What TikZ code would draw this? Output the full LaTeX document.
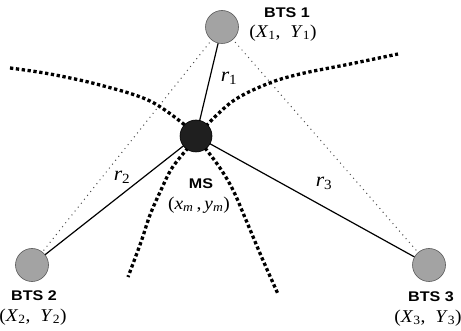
\documentclass[tikz,border=0pt]{standalone}
\usepackage{fontspec}
\setmainfont{Liberation Serif}
\setsansfont{Liberation Sans}
\newfontfamily\btsfont{Liberation Sans}[FakeStretch=1.15]
\newfontfamily\crdfont{Liberation Serif}[FakeStretch=1.08]
\tikzset{
  bts/.style={circle,draw=gray!70!black,line width=0.6pt,fill=black!36,minimum size=33pt,inner sep=0pt},
  msnode/.style={circle,draw=black,line width=0.6pt,fill=black!88,minimum size=32pt,inner sep=0pt},
  rangeline/.style={draw=black,line width=1.2pt},
  guideline/.style={draw=black!70,line width=1pt,dash pattern=on 1pt off 4pt},
  hyper/.style={draw=black,line width=3.3pt,dash pattern=on 3.3pt off 2.6pt},
  btslab/.style={font=\btsfont\bfseries\fontsize{14}{14}\selectfont,inner sep=0pt},
  crdlab/.style={font=\crdfont\fontsize{18}{18}\selectfont,inner sep=0pt},
  rlab/.style={font=\crdfont\fontsize{20}{20}\selectfont\itshape,inner sep=0pt}
}
\begin{document}
\begin{tikzpicture}[x=1pt,y=-1pt]
\useasboundingbox (0,0) rectangle (461,331);
% positions
\coordinate (p1) at (222,27);
\coordinate (p2) at (32,265);
\coordinate (p3) at (429,265);
\coordinate (pm) at (196,136);
% guide (dotted) lines
\draw[guideline] (p1) -- (p2);
\draw[guideline] (p1) -- (p3);
% range lines
\draw[rangeline] (pm) -- (p1);
\draw[rangeline] (pm) -- (p2);
\draw[rangeline] (pm) -- (p3);
% hyperbolas
\draw[hyper] plot[smooth,tension=0.6] coordinates {(10,68) (50,74) (100,85) (150,101) (186,126)};
\draw[hyper] plot[smooth,tension=0.6] coordinates {(206,126) (233,101) (267,84) (300,74) (350,64) (398,54)};
\draw[hyper] plot[smooth,tension=0.6] coordinates {(188,148) (172,168) (161,190) (150,215) (141,242) (128,277)};
\draw[hyper] plot[smooth,tension=0.6] coordinates {(205,148) (220,168) (233,190) (246,220) (262,258) (278,294)};
% nodes
\node[bts] (b1) at (p1) {};
\node[bts] (b2) at (p2) {};
\node[bts] (b3) at (p3) {};
\node[msnode] (ms) at (pm) {};
% labels
\node[btslab] (l1) at (287,13) {BTS 1};
\node[crdlab] (c1) at (283,33) {(\textit{X}\textsubscript{1},\; \textit{Y}\textsubscript{1})};
\node[btslab] (l2) at (34,296) {BTS 2};
\node[crdlab] (c2) at (33,317) {(\textit{X}\textsubscript{2},\; \textit{Y}\textsubscript{2})};
\node[btslab] (l3) at (431,297) {BTS 3};
\node[crdlab] (c3) at (428,318) {(\textit{X}\textsubscript{3},\; \textit{Y}\textsubscript{3})};
\node[btslab] (lm) at (201,184) {MS};
\node[crdlab] (cm) at (199,205) {(\textit{x}\textsubscript{\textit{m}}\,,\,\textit{y}\textsubscript{\textit{m}})};
\node[rlab] (r1) at (229,78) {r\textsubscript{\upshape 1}};
\node[rlab] (r2) at (122,177) {r\textsubscript{\upshape 2}};
\node[rlab] (r3) at (324,183) {r\textsubscript{\upshape 3}};
\end{tikzpicture}
\end{document}
